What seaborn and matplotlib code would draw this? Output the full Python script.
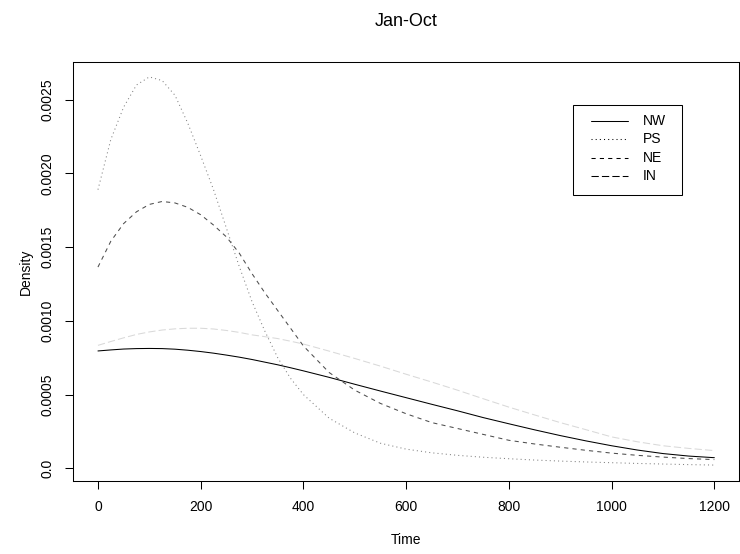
import numpy as np
import pandas as pd
import matplotlib
matplotlib.use("Agg")
import matplotlib.pyplot as plt
from matplotlib.lines import Line2D
from matplotlib.patches import Rectangle
import seaborn as sns

# Evaluation grid (minutes)
time = [0, 25, 50, 75, 100, 125, 150, 175, 200, 225, 250, 275, 300, 325, 350,
        375, 400, 450, 500, 550, 600, 650, 700, 750, 800, 850, 900, 950, 1000,
        1050, 1100, 1150, 1200]

# Density estimates per region
nw = [0.000796, 0.000803, 0.000809, 0.000812, 0.000813, 0.000812, 0.000808,
      0.000801, 0.000792, 0.000781, 0.000768, 0.000754, 0.000738, 0.000720,
      0.000702, 0.000682, 0.000661, 0.000617, 0.000570, 0.000524, 0.000479,
      0.000434, 0.000390, 0.000344, 0.000302, 0.000261, 0.000222, 0.000186,
      0.000153, 0.000124, 0.000100, 0.000083, 0.000072]
ps = [0.00189, 0.00223, 0.00245, 0.00260, 0.002655, 0.00263, 0.00253, 0.00234,
      0.00212, 0.00189, 0.00163, 0.00137, 0.00113, 0.00093, 0.00075, 0.00061,
      0.00050, 0.00034, 0.00024, 0.00017, 0.00013, 0.000105, 0.000088,
      0.000075, 0.000065, 0.000056, 0.000049, 0.000043, 0.000038, 0.000033,
      0.000029, 0.000025, 0.000022]
ne = [0.001365, 0.00154, 0.00166, 0.00174, 0.00179, 0.00181, 0.00180, 0.00177,
      0.00172, 0.00165, 0.00157, 0.00146, 0.00132, 0.00119, 0.00107, 0.00095,
      0.00083, 0.00065, 0.00053, 0.00044, 0.00037, 0.00031, 0.00027, 0.00023,
      0.00019, 0.000165, 0.000143, 0.000122, 0.000103, 0.000088, 0.000076,
      0.000066, 0.000059]
inn = [0.000834, 0.00086, 0.000885, 0.000908, 0.000925, 0.000938, 0.000946,
       0.00095, 0.00095, 0.000945, 0.000935, 0.000922, 0.000905, 0.000893,
       0.000880, 0.000862, 0.000843, 0.000795, 0.000745, 0.000693, 0.000638,
       0.000585, 0.00053, 0.000472, 0.000415, 0.000362, 0.000310, 0.000262,
       0.000213, 0.00018, 0.000153, 0.000135, 0.00012]

regions = ["NW", "PS", "NE", "IN"]
x_ticks = [0, 200, 400, 600, 800, 1000, 1200]
y_ticks = [0.0, 0.0005, 0.0010, 0.0015, 0.0020, 0.0025]
y_tick_labels = ["0.0", "0.0005", "0.0010", "0.0015", "0.0020", "0.0025"]

df = pd.concat(
    [pd.DataFrame({"Time": time, "Density": vals, "Region": name})
     for name, vals in zip(regions, [nw, ps, ne, inn])],
    ignore_index=True,
)

sns.set_theme(style="white")
plt.rcParams["font.family"] = ["Liberation Sans", "DejaVu Sans"]
plt.rcParams["text.color"] = "black"
plt.rcParams["axes.labelcolor"] = "black"
plt.rcParams["xtick.color"] = "black"
plt.rcParams["ytick.color"] = "black"

palette = {"NW": "#000000", "PS": "#808080", "NE": "#4d4d4d", "IN": "#d9d9d9"}
dashes = {"NW": "", "PS": (1, 3), "NE": (4, 4), "IN": (7, 3)}

W, H = 740, 554
left_px, right_px, top_px, bottom_px = 73.3, 739, 62.3, 480.7

fig = plt.figure(figsize=(W / 100, H / 100), dpi=100)
ax = fig.add_axes([left_px / W, 1 - bottom_px / H,
                   (right_px - left_px) / W, (bottom_px - top_px) / H])

sns.lineplot(data=df, x="Time", y="Density", hue="Region", style="Region",
             palette=palette, dashes=dashes, linewidth=0.75, legend=False,
             sort=False, ax=ax)

ax.set_xlim(-48, 1248)
ax.set_ylim(-0.0000841, 0.002754)
ax.set_xticks(x_ticks)
ax.set_xticklabels([str(v) for v in x_ticks])
ax.set_yticks(y_ticks)
ax.set_yticklabels(y_tick_labels, rotation=90, va="center", ha="right")
ax.set_xlabel("")
ax.set_ylabel("")

for side in ["top", "right", "bottom", "left"]:
    ax.spines[side].set_visible(True)
    ax.spines[side].set_color("black")
    ax.spines[side].set_linewidth(0.75)

ax.tick_params(axis="both", which="major", direction="out", length=6.1,
               width=0.75, color="black", labelsize=10, labelcolor="black",
               pad=7.5, bottom=True, left=True, top=False, right=False)

fig.text(406 / W, 1 - 22 / H, "Jan-Oct", ha="center", va="center",
         fontsize=13, color="black")
fig.text(406 / W, 1 - 540 / H, "Time", ha="center", va="center",
         fontsize=10, color="black")
fig.text(26 / W, 1 - 271.5 / H, "Density", ha="center", va="center",
         rotation=90, fontsize=10, color="black")


# Legend box in the upper right, keyed in black line styles
def to_axes(px, py):
    return ((px - left_px) / (right_px - left_px),
            (bottom_px - py) / (bottom_px - top_px))


x0, y0 = to_axes(573, 195)
x1, y1 = to_axes(682, 105)
ax.add_patch(Rectangle((x0, y0), x1 - x0, y1 - y0, transform=ax.transAxes,
                       facecolor="white", edgecolor="black", linewidth=0.75,
                       zorder=5))
row_px = [121, 139.3, 157.6, 176]
for name, ry in zip(regions, row_px):
    lx0, ly = to_axes(591, ry)
    lx1, _ = to_axes(628, ry)
    tx, _ = to_axes(643, ry)
    ls = (0, dashes[name]) if dashes[name] else "-"
    ax.add_line(Line2D([lx0, lx1], [ly, ly], transform=ax.transAxes,
                       color="black", linewidth=0.75, linestyle=ls, zorder=6))
    ax.text(tx, ly, name, transform=ax.transAxes, ha="left", va="center",
            fontsize=10, color="black", zorder=6)

fig.savefig("out.png", dpi=100)
